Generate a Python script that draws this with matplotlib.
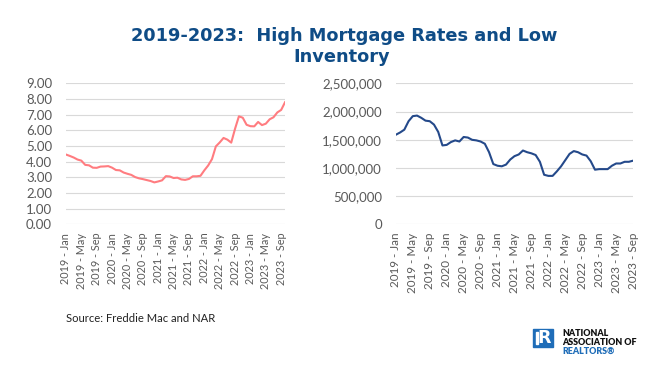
import matplotlib
matplotlib.use("Agg")
import matplotlib.pyplot as plt
from matplotlib.patches import Rectangle
from matplotlib.ticker import FuncFormatter

plt.rcParams['font.family'] = ['Lato', 'DejaVu Sans']

# 30-yr mortgage rate (Freddie Mac), monthly Jan 2019 - Oct 2023
rates = [4.46, 4.37, 4.27, 4.14, 4.07, 3.80, 3.77, 3.62, 3.61, 3.69, 3.70, 3.72,
         3.62, 3.47, 3.45, 3.31, 3.23, 3.16, 3.02, 2.94, 2.89, 2.83, 2.77, 2.68,
         2.74, 2.81, 3.08, 3.06, 2.96, 2.98, 2.87, 2.84, 2.90, 3.07, 3.07, 3.10,
         3.45, 3.76, 4.17, 4.98, 5.23, 5.52, 5.41, 5.22, 6.11, 6.90, 6.81, 6.36,
         6.27, 6.26, 6.54, 6.34, 6.43, 6.71, 6.84, 7.15, 7.31, 7.80]

# existing-home inventory (NAR), monthly Jan 2019 - Sep 2023
inventory = [1590000, 1630000, 1680000, 1830000, 1920000, 1930000, 1890000, 1840000, 1830000, 1770000, 1640000, 1400000,
             1410000, 1460000, 1490000, 1470000, 1550000, 1540000, 1500000, 1490000, 1470000, 1430000, 1280000, 1070000,
             1040000, 1030000, 1060000, 1150000, 1210000, 1240000, 1310000, 1280000, 1260000, 1230000, 1110000, 880000,
             860000, 860000, 940000, 1030000, 1140000, 1250000, 1300000, 1280000, 1240000, 1220000, 1120000, 970000,
             980000, 980000, 980000, 1040000, 1080000, 1080000, 1110000, 1110000, 1130000]

months = ['Jan', 'Feb', 'Mar', 'Apr', 'May', 'Jun', 'Jul', 'Aug', 'Sep', 'Oct', 'Nov', 'Dec']

def month_labels(n):
    return [f"{2019 + i // 12} - {months[i % 12]}" for i in range(n)]

grey = '#595959'
grid = '#D9D9D9'
title_blue = '#0F4C86'
nar_blue = '#1F6DB8'

fig = plt.figure(figsize=(6.5, 3.66), dpi=100)

# title, two lines
fig.text(0.530, 1 - 41 / 366, "2019-2023:  High Mortgage Rates and Low",
         ha='center', va='baseline', fontsize=12.8, fontweight='bold',
         color=title_blue, family=['DejaVu Sans'])
fig.text(0.5257, 1 - 61.7 / 366, "Inventory",
         ha='center', va='baseline', fontsize=12.8, fontweight='bold',
         color=title_blue, family=['DejaVu Sans'])

def style(ax, n, labsize):
    ax.set_xlim(0, n - 1)
    for s in ax.spines.values():
        s.set_visible(False)
    ax.yaxis.grid(True, color=grid, lw=0.8)
    ax.set_axisbelow(True)
    ax.tick_params(length=0, colors=grey)
    ax.tick_params(axis='y', pad=10, labelsize=9.5)
    ax.tick_params(axis='x', pad=6, labelsize=labsize)
    labs = month_labels(n)
    idx = list(range(0, n, 4))
    ax.set_xticks(idx)
    ax.set_xticklabels([labs[i] for i in idx], rotation=90)

ax1 = fig.add_axes([0.1015, 0.387, 0.337, 0.385])
ax1.plot(range(len(rates)), rates, color='#FF7C80', lw=1.5)
ax1.set_ylim(0, 9)
ax1.set_yticks(range(0, 10))
ax1.yaxis.set_major_formatter(FuncFormatter(lambda v, p: f"{v:.2f}"))
style(ax1, len(rates), 7.8)

ax2 = fig.add_axes([0.609, 0.387, 0.365, 0.385])
ax2.plot(range(len(inventory)), inventory, color='#24498A', lw=1.5)
ax2.set_ylim(0, 2500000)
ax2.set_yticks(range(0, 2500001, 500000))
ax2.yaxis.set_major_formatter(FuncFormatter(lambda v, p: f"{int(v):,}"))
style(ax2, len(inventory), 8.4)

fig.text(66 / 650, 1 - 319 / 366, "Source: Freddie Mac and NAR", fontsize=8.1, color='#222222',
         va='center', ha='left')

# NAR logo
fig.patches.append(Rectangle((533 / 650, 1 - 347 / 366), 20 / 650, 18 / 366,
                             transform=fig.transFigure, color=nar_blue, zorder=3))
fig.patches.append(Rectangle((536 / 650, 1 - 344 / 366), 1.6 / 650, 12 / 366,
                             transform=fig.transFigure, color='white', zorder=4))
fig.text(544.5 / 650, 1 - 338 / 366, "R", color='white', fontsize=12.5, fontweight='bold',
         ha='center', va='center', zorder=5, family=['DejaVu Sans'])
fig.text(562 / 650, 1 - 334 / 366, "NATIONAL", fontsize=6.4, fontweight='heavy',
         color='#111111', va='center', ha='left')
fig.text(562 / 650, 1 - 342.5 / 366, "ASSOCIATION OF", fontsize=6.4, fontweight='heavy',
         color='#111111', va='center', ha='left')
fig.text(562 / 650, 1 - 351 / 366, "REALTORS\u00ae", fontsize=6.4, fontweight='heavy',
         color=nar_blue, va='center', ha='left')

fig.savefig("out.png", dpi=100)
